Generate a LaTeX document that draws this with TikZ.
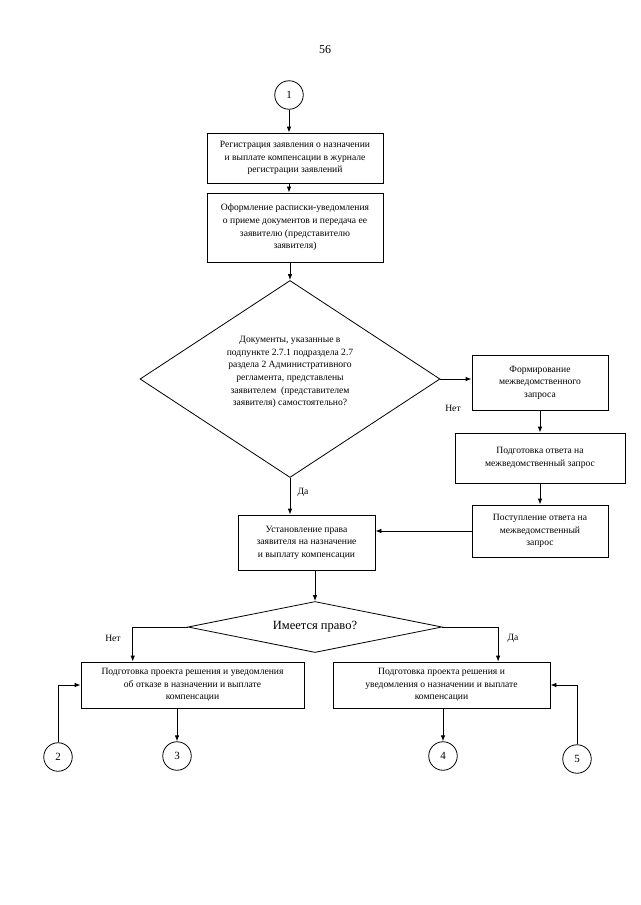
\documentclass[tikz,border=0pt]{standalone}
\usepackage{fontspec}
\setmainfont{Liberation Serif}
\usetikzlibrary{shapes.geometric,arrows.meta,calc}
\begin{document}
\begin{tikzpicture}[x=1pt,y=-1pt,
  font=\fontsize{9.6}{12.6}\selectfont,
  box/.style={draw,line width=0.8pt,align=center,inner sep=2pt},
  dia/.style={draw,diamond,line width=0.8pt,align=center,inner sep=0pt},
  conncirc/.style={draw,circle,line width=0.8pt,minimum size=28.5pt,inner sep=0pt,font=\fontsize{11}{13}\selectfont},
  conn/.style={line width=0.8pt,-{Latex[length=6pt,width=4.5pt]}},
  lbl/.style={inner sep=0pt}]
\useasboundingbox[fill=white] (0,0) rectangle (640,905);

\node[lbl,font=\fontsize{12}{14}\selectfont] (n56) at (325,50) {56};
\node[conncirc] (c1) at (289,95) {1};
\node[box,minimum width=176,minimum height=50] (b1) at (295,158) {Регистрация заявления о назначении\\и выплате компенсации в журнале\\регистрации заявлений};
\node[box,minimum width=176,minimum height=69] (b2) at (295,227.5) {Оформление расписки-уведомления\\о приеме документов и передача ее\\заявителю (представителю\\заявителя)};
\node[dia,aspect=1.52,minimum width=300,minimum height=197] (d1) at (290,379) {};
\node[lbl,align=center] (t1) at ($(d1.center)+(0,-7)$) {Документы, указанные в\\подпункте 2.7.1 подраздела 2.7\\раздела 2 Административного\\регламента, представлены\\заявителем\ \ (представителем\\заявителя) самостоятельно?};
\node[box,minimum width=136,minimum height=55] (b3) at (540,382.5) {Формирование\\межведомственного\\запроса};
\node[box,minimum width=170,minimum height=50] (b4) at (540,458) {Подготовка ответа на\\межведомственный запрос};
\node[box,minimum width=136,minimum height=52] (b5) at (540,531) {Поступление ответа на\\межведомственный\\запрос};
\node[box,minimum width=137,minimum height=55] (b6) at (306.5,542.5) {Установление права\\заявителя на назначение\\и выплату компенсации};
\node[dia,aspect=5,minimum width=254,minimum height=51,font=\fontsize{12.5}{14}\selectfont] (d2) at (315,627) {Имеется право?};
\node[box,minimum width=223,minimum height=46] (b7) at (192.5,685) {Подготовка проекта решения и уведомления\\об отказе в назначении и выплате\\компенсации};
\node[box,minimum width=217,minimum height=46] (b8) at (441.5,685) {Подготовка проекта решения и\\уведомления о назначении и выплате\\компенсации};
\node[conncirc] (c2) at (58,757) {2};
\node[conncirc] (c3) at (177,756) {3};
\node[conncirc] (c4) at (443,756) {4};
\node[conncirc] (c5) at (577,759) {5};

\node[lbl] (l1) at (453,408) {Нет};
\node[lbl] (l2) at (303,492) {Да};
\node[lbl] (l3) at (113,638) {Нет};
\node[lbl] (l4) at (513,638) {Да};

\draw[conn] (c1.south) -- (b1.north -| c1.south);
\draw[conn] (b1.south -| c1.south) -- (b2.north -| c1.south);
\draw[conn] (b2.south -| d1.north) -- (d1.north);
\draw[conn] (d1.east) -- (d1.east -| b3.west);
\draw[conn] (b3.south) -- (b4.north);
\draw[conn] (b4.south) -- (b5.north);
\draw[conn] (b5.west) -- (b5.west -| b6.east);
\draw[conn] (d1.south) -- (d1.south |- b6.north);
\draw[conn] (d2.north |- b6.south) -- (d2.north);
\draw[conn] (d2.west) -| ($(b7.north west)!0.233!(b7.north east)$);
\draw[conn] (d2.east) -| ($(b8.north west)!0.76!(b8.north east)$);
\draw[conn] (c3.north |- b7.south) -- (c3.north);
\draw[conn] (c4.north |- b8.south) -- (c4.north);
\draw[conn] (c2.north) |- (b7.west);
\draw[conn] (c5.north) |- (b8.east);
\end{tikzpicture}
\end{document}
